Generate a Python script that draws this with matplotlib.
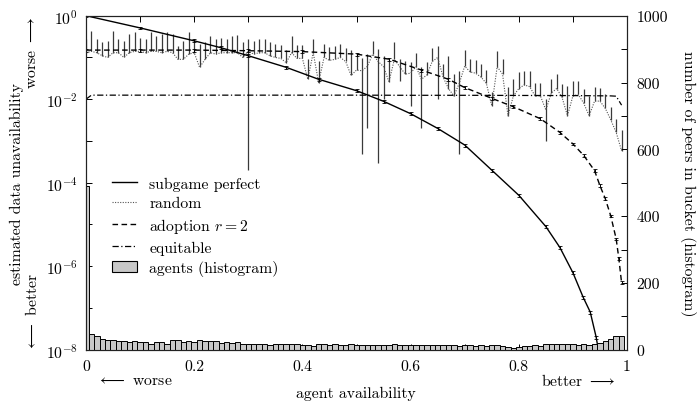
import numpy as np
import matplotlib
matplotlib.use("Agg")
import matplotlib.pyplot as plt
from matplotlib.patches import Patch
from matplotlib.lines import Line2D
from matplotlib.ticker import NullFormatter, FixedLocator

plt.rcParams['font.family'] = 'cmr10'
plt.rcParams['mathtext.fontset'] = 'cm'
plt.rcParams['axes.formatter.use_mathtext'] = True
FS = 11.3
plt.rcParams['font.size'] = FS

# ---- bucket centres (agent availability) ----
bucket_x = np.arange(100) / 100

# random placement: mean and std of unavailability per bucket
random_mean = [
    0.13, 0.14, 0.13, 0.11, 0.10, 0.13, 0.13, 0.10, 0.13, 0.14,
    0.14, 0.13, 0.14, 0.14, 0.13, 0.14, 0.13, 0.09, 0.09, 0.12,
    0.13, 0.058, 0.09, 0.13, 0.12, 0.13, 0.13, 0.13, 0.13, 0.10,
    0.139, 0.12, 0.13, 0.13, 0.11, 0.10, 0.095, 0.075, 0.13, 0.095,
    0.095, 0.030, 0.13, 0.025, 0.10, 0.085, 0.09, 0.10, 0.08, 0.037,
    0.05, 0.048, 0.061, 0.12, 0.08, 0.06, 0.026, 0.09, 0.06, 0.040,
    0.042, 0.06, 0.030, 0.038, 0.08, 0.10, 0.034, 0.018, 0.012, 0.024,
    0.062, 0.045, 0.042, 0.034, 0.024, 0.007, 0.06, 0.04, 0.004, 0.012,
    0.018, 0.022, 0.02, 0.012, 0.012, 0.0055, 0.014, 0.018, 0.011, 0.004,
    0.012, 0.013, 0.008, 0.004, 0.009, 0.009, 0.006, 0.0032, 0.0016, 0.00058,
]
random_std = [
    0.14, 0.30, 0.15, 0.13, 0.15, 0.31, 0.14, 0.15, 0.23, 0.26,
    0.16, 0.15, 0.26, 0.19, 0.23, 0.26, 0.23, 0.10, 0.16, 0.28,
    0.15, 0.15, 0.14, 0.20, 0.16, 0.17, 0.15, 0.20, 0.21, 0.13,
    0.1388, 0.13, 0.15, 0.15, 0.12, 0.11, 0.10, 0.08, 0.20, 0.10,
    0.10, 0.062, 0.15, 0.055, 0.11, 0.095, 0.095, 0.11, 0.085, 0.113,
    0.07, 0.0475, 0.059, 0.13, 0.0797, 0.05, 0.066, 0.14, 0.032, 0.044,
    0.035, 0.065, 0.028, 0.04, 0.085, 0.09, 0.035, 0.092, 0.028, 0.0235,
    0.088, 0.047, 0.043, 0.036, 0.025, 0.008, 0.086, 0.052, 0.016, 0.018,
    0.026, 0.026, 0.028, 0.013, 0.013, 0.0045, 0.016, 0.022, 0.012, 0.017,
    0.015, 0.014, 0.01, 0.008, 0.011, 0.010, 0.007, 0.0034, 0.0017, 0.0013,
]

# subgame perfect strategy
subgame_x = [0.0, 0.1, 0.2, 0.25, 0.3, 0.37, 0.43, 0.5, 0.55, 0.6, 0.65,
             0.7, 0.75, 0.8, 0.85, 0.876, 0.9, 0.919, 0.932, 0.943, 0.947]
subgame_y = [1.0, 0.51, 0.25, 0.17, 0.11, 0.058, 0.030, 0.016, 0.0089,
             0.0045, 0.002, 8e-4, 2e-4, 5e-5, 8.9e-6, 2.8e-6, 7e-7,
             1.8e-7, 8e-8, 2e-8, 1e-8]

# adoption with r = 2
adoption_x = [0.0, 0.1, 0.2, 0.3, 0.4, 0.5, 0.56, 0.62, 0.67, 0.7, 0.75,
              0.79, 0.84, 0.876, 0.9, 0.92, 0.94, 0.95, 0.96, 0.97, 0.98,
              0.985, 0.99]
adoption_y = [0.15, 0.15, 0.15, 0.145, 0.138, 0.12, 0.091, 0.05, 0.030,
              0.019, 0.0105, 0.0066, 0.0034, 0.0016, 8.5e-4, 4.5e-4,
              1.95e-4, 8.5e-5, 4.1e-5, 1.6e-5, 4.5e-6, 1.5e-6, 4e-7]

# equitable strategy
equitable_x = [0.0, 0.01, 0.1, 0.2, 0.3, 0.4, 0.5, 0.6, 0.7, 0.8, 0.9,
               0.97, 0.98, 0.99]
equitable_y = [0.0100, 0.0125, 0.0125, 0.0125, 0.0125, 0.0125, 0.0125,
               0.0124, 0.0124, 0.0123, 0.0122, 0.0120, 0.0118, 0.0072]

# number of peers per availability bucket
hist_counts = [
    490, 47, 40, 32, 30, 28, 27, 26, 24, 26,
    24, 23, 18, 22, 23, 18, 30, 28, 24, 25,
    22, 29, 25, 25, 25, 21, 24, 20, 23, 18,
    18, 18, 17, 17, 15, 18, 17, 16, 17, 16,
    14, 15, 12, 17, 17, 14, 16, 15, 13, 16,
    14, 13, 15, 13, 14, 15, 13, 16, 14, 15,
    13, 15, 14, 13, 15, 14, 13, 15, 13, 12,
    15, 14, 12, 15, 12, 13, 15, 12, 8, 6,
    8, 10, 11, 14, 12, 16, 18, 16, 18, 16,
    18, 15, 17, 15, 17, 20, 26, 32, 42, 42,
]

W, H = 699, 406
fig = plt.figure(figsize=(W / 100, H / 100), dpi=100)
ax = fig.add_axes([86 / W, (H - 350.7) / H, 541 / W, 334 / H])
ax2 = ax.twinx()

# --- histogram (right axis) ---
ax2.bar(bucket_x, hist_counts, width=0.01, color='#c8c8c8',
        edgecolor='black', linewidth=0.7, zorder=1)
ax2.set_ylim(0, 1000)

# --- random: dotted line with error bars ---
rm = np.array(random_mean)
rs = np.array(random_std)
low = np.where(rm - rs > 0, rm - rs, rm)
high = rm + rs
ax.vlines(bucket_x, low, high, color='#3a3a3a', linewidth=0.9, zorder=2)
ax.plot(bucket_x, rm, linestyle=(0, (1, 1.3)), color='#555555',
        linewidth=0.8, zorder=2)

# --- subgame perfect ---
sg = np.array(subgame_y)
ax.errorbar(subgame_x, sg, yerr=0.08 * sg, color='black', linewidth=1.0,
            elinewidth=0.7, capsize=1.2, capthick=0.6, zorder=3)

# --- adoption r = 2 ---
ad = np.array(adoption_y)
ax.errorbar(adoption_x, ad, yerr=0.08 * ad, color='black', linewidth=1.0,
            linestyle=(0, (4, 2.5)), elinewidth=0.7, capsize=1.2,
            capthick=0.6, zorder=3)

# --- equitable ---
ax.plot(equitable_x, equitable_y, color='black', linewidth=0.9,
        linestyle=(0, (5, 2, 1, 2)), zorder=3)

ax.set_yscale('log')
ax.set_ylim(1e-8, 1)
ax.set_xlim(0, 1)

# ticks
ax.set_yticks([1e-8, 1e-6, 1e-4, 1e-2, 1])
ax.set_yticklabels([r'$10^{-8}$', r'$10^{-6}$', r'$10^{-4}$',
                    r'$10^{-2}$', r'$10^{0}$'])
ax.yaxis.set_minor_locator(FixedLocator([1e-7, 1e-5, 1e-3, 1e-1]))
ax.yaxis.set_minor_formatter(NullFormatter())
ax.set_xticks([0, 0.2, 0.4, 0.6, 0.8, 1.0])
ax.set_xticklabels(['0', '0.2', '0.4', '0.6', '0.8', '1'])
ax.xaxis.set_minor_locator(FixedLocator([0.1, 0.3, 0.5, 0.7, 0.9]))
ax2.set_yticks([0, 200, 400, 600, 800, 1000])
ax2.set_yticklabels(['0', '200', '400', '600', '800', '1000'])
ax2.yaxis.set_minor_locator(FixedLocator([100, 300, 500, 700, 900]))

ax.tick_params(axis='both', which='both', direction='in', length=4,
               width=0.7, top=True, right=False, labelsize=FS, pad=6)
ax.tick_params(axis='x', which='major', pad=7)
ax2.tick_params(axis='y', which='both', direction='in', length=4,
                width=0.7, labelsize=FS, pad=7)

for a in (ax, ax2):
    for s in a.spines.values():
        s.set_linewidth(0.8)
        s.set_color('#222222')

# axis labels
fig.text(17 / W, 1 - 183.7 / H, 'estimated data unavailability',
         rotation=90, ha='center', va='center', fontsize=FS)
fig.text(32 / W, 1 - 16.7 / H, r'worse $\longrightarrow$', rotation=90,
         ha='center', va='top', fontsize=FS)
fig.text(32 / W, 1 - 351 / H, r'$\longleftarrow$ better', rotation=90,
         ha='center', va='bottom', fontsize=FS)
fig.text(688 / W, 1 - 183.7 / H, 'number of peers in bucket (histogram)',
         rotation=270, ha='center', va='center', fontsize=FS)
fig.text(356 / W, 1 - 394 / H, 'agent availability', ha='center',
         va='center', fontsize=FS)
fig.text(97 / W, 1 - 381 / H, r'$\longleftarrow$ worse', ha='left',
         va='center', fontsize=FS)
fig.text(616 / W, 1 - 381 / H, r'better $\longrightarrow$', ha='right',
         va='center', fontsize=FS)

handles = [
    Line2D([], [], color='black', linewidth=1.0),
    Line2D([], [], color='#555555', linewidth=0.8, linestyle=(0, (1, 1.3))),
    Line2D([], [], color='black', linewidth=1.0, linestyle=(0, (4, 2.5))),
    Line2D([], [], color='black', linewidth=0.9,
           linestyle=(0, (5, 2, 1, 2))),
    Patch(facecolor='#c8c8c8', edgecolor='black', linewidth=0.8),
]
labels = ['subgame perfect', 'random', r'adoption $r=2$', 'equitable',
          'agents (histogram)']
ax2.legend(handles, labels, loc='upper left',
           bbox_to_anchor=(0.036, 0.538), frameon=False, fontsize=FS,
           handlelength=1.6, handletextpad=0.8, labelspacing=0.36,
           borderaxespad=0)

fig.savefig('out.png', dpi=100)
